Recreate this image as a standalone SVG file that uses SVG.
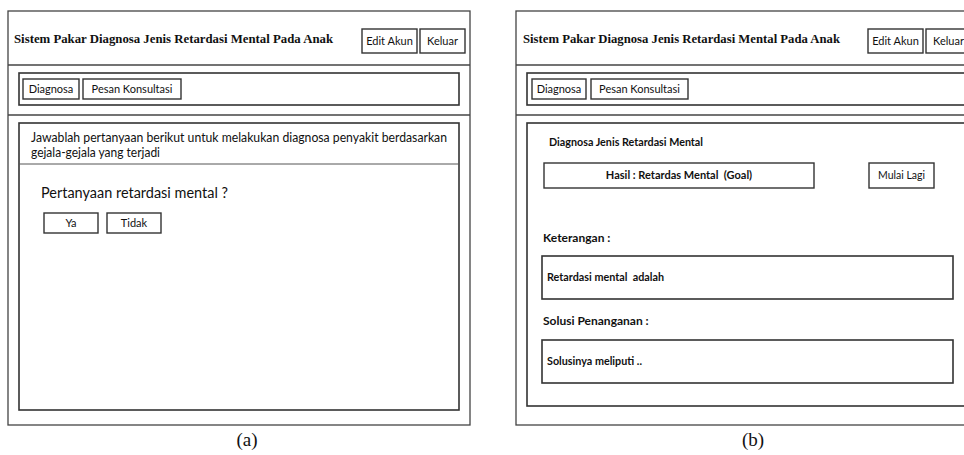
<svg xmlns="http://www.w3.org/2000/svg" width="964" height="455" viewBox="0 0 964 455">
<style>
.frame{fill:#fff;stroke:#444;stroke-width:1.3}
.box{fill:#fff;stroke:#333;stroke-width:1.6}
.btn{fill:#fff;stroke:#333;stroke-width:1.4}
.title{font-family:"Liberation Serif",serif;font-weight:bold;font-size:13.5px;fill:#111}
.ui{font-family:Lato,"Open Sans",sans-serif;fill:#111}
.cap{font-family:"Liberation Serif",serif;font-size:19px;fill:#111}
</style>
<rect width="964" height="455" fill="#fff"/>
<g id="panel-a">
  <rect class="frame" x="8" y="11" width="462" height="414"/>
  <line x1="8" y1="65" x2="470" y2="65" stroke="#444" stroke-width="1.3"/>
  <line x1="8" y1="115" x2="470" y2="115" stroke="#444" stroke-width="1.3"/>
  <text class="title" x="14" y="43" textLength="319" lengthAdjust="spacingAndGlyphs">Sistem Pakar Diagnosa Jenis Retardasi Mental Pada Anak</text>
  <g id="a-edit"><rect class="btn" x="362" y="29" width="55" height="24"/><text class="ui" x="389.5" y="45" font-size="11" text-anchor="middle">Edit Akun</text></g>
  <g id="a-keluar"><rect class="btn" x="420" y="29" width="45" height="24"/><text class="ui" x="442.5" y="45" font-size="11" text-anchor="middle">Keluar</text></g>
  <g id="a-nav"><rect class="box" x="19" y="73" width="440" height="32"/></g>
  <g id="a-diagnosa"><rect class="btn" x="23" y="79" width="56" height="20"/><text class="ui" x="51" y="93" font-size="11" text-anchor="middle">Diagnosa</text></g>
  <g id="a-pesan"><rect class="btn" x="83" y="79" width="98" height="20"/><text class="ui" x="132" y="93" font-size="11" text-anchor="middle">Pesan Konsultasi</text></g>
  <g id="a-content">
    <rect class="box" x="19" y="123" width="440" height="287"/>
    <line x1="19" y1="164" x2="459" y2="164" stroke="#555" stroke-width="1"/>
    <text class="ui" x="31" y="142" font-size="12.5" textLength="416" lengthAdjust="spacingAndGlyphs">Jawablah pertanyaan berikut untuk melakukan diagnosa penyakit berdasarkan</text>
    <text class="ui" x="31" y="157" font-size="12.5" textLength="129" lengthAdjust="spacingAndGlyphs">gejala-gejala yang terjadi</text>
    <text class="ui" x="41" y="198" font-size="15.5" textLength="187" lengthAdjust="spacingAndGlyphs">Pertanyaan retardasi mental ?</text>
  </g>
  <g id="a-ya"><rect class="btn" x="44" y="213" width="54" height="20"/><text class="ui" x="71" y="227" font-size="11" text-anchor="middle">Ya</text></g>
  <g id="a-tidak"><rect class="btn" x="107" y="213" width="54" height="20"/><text class="ui" x="134" y="227" font-size="11" text-anchor="middle">Tidak</text></g>
  <text class="cap" x="247" y="446" text-anchor="middle">(a)</text>
</g>
<g id="panel-b">
  <rect class="frame" x="516" y="11" width="470" height="414"/>
  <line x1="516" y1="65" x2="964" y2="65" stroke="#444" stroke-width="1.3"/>
  <line x1="516" y1="115" x2="964" y2="115" stroke="#444" stroke-width="1.3"/>
  <text class="title" x="523" y="43" textLength="317" lengthAdjust="spacingAndGlyphs">Sistem Pakar Diagnosa Jenis Retardasi Mental Pada Anak</text>
  <g id="b-edit"><rect class="btn" x="868" y="29" width="55" height="24"/><text class="ui" x="895.5" y="45" font-size="11" text-anchor="middle">Edit Akun</text></g>
  <g id="b-keluar"><rect class="btn" x="926" y="29" width="45" height="24"/><text class="ui" x="948.5" y="45" font-size="11" text-anchor="middle">Keluar</text></g>
  <g id="b-nav"><rect class="box" x="527" y="73" width="460" height="32"/></g>
  <g id="b-diagnosa"><rect class="btn" x="532" y="79" width="54" height="20"/><text class="ui" x="559" y="93" font-size="11" text-anchor="middle">Diagnosa</text></g>
  <g id="b-pesan"><rect class="btn" x="591" y="79" width="97" height="20"/><text class="ui" x="639.5" y="93" font-size="11" text-anchor="middle">Pesan Konsultasi</text></g>
  <g id="b-content">
    <rect class="box" x="527" y="123" width="460" height="283"/>
    <text class="ui" x="549" y="146" font-size="10.5" font-weight="bold" textLength="154" lengthAdjust="spacingAndGlyphs">Diagnosa Jenis Retardasi Mental</text>
  </g>
  <g id="b-hasil"><rect class="btn" x="544" y="163" width="270" height="25"/><text class="ui" x="679" y="179" font-size="11" font-weight="bold" text-anchor="middle" xml:space="preserve">Hasil : Retardas Mental  (Goal)</text></g>
  <g id="b-mulai"><rect class="btn" x="869" y="163" width="65" height="25"/><text class="ui" x="901.5" y="179" font-size="10.5" text-anchor="middle">Mulai Lagi</text></g>
  <text class="ui" x="543" y="242" font-size="12" font-weight="bold">Keterangan :</text>
  <g id="b-keterangan"><rect class="box" x="542" y="256" width="411" height="43"/><text class="ui" x="547" y="281" font-size="10.5" font-weight="bold" xml:space="preserve" textLength="117" lengthAdjust="spacingAndGlyphs">Retardasi mental  adalah</text></g>
  <text class="ui" x="543" y="325" font-size="12" font-weight="bold">Solusi Penanganan :</text>
  <g id="b-solusi"><rect class="box" x="542" y="340" width="411" height="43"/><text class="ui" x="547" y="365" font-size="10.5" font-weight="bold" textLength="95" lengthAdjust="spacingAndGlyphs">Solusinya meliputi ..</text></g>
  <text class="cap" x="753" y="446" text-anchor="middle">(b)</text>
</g>
<g id="connectors"/>
</svg>
